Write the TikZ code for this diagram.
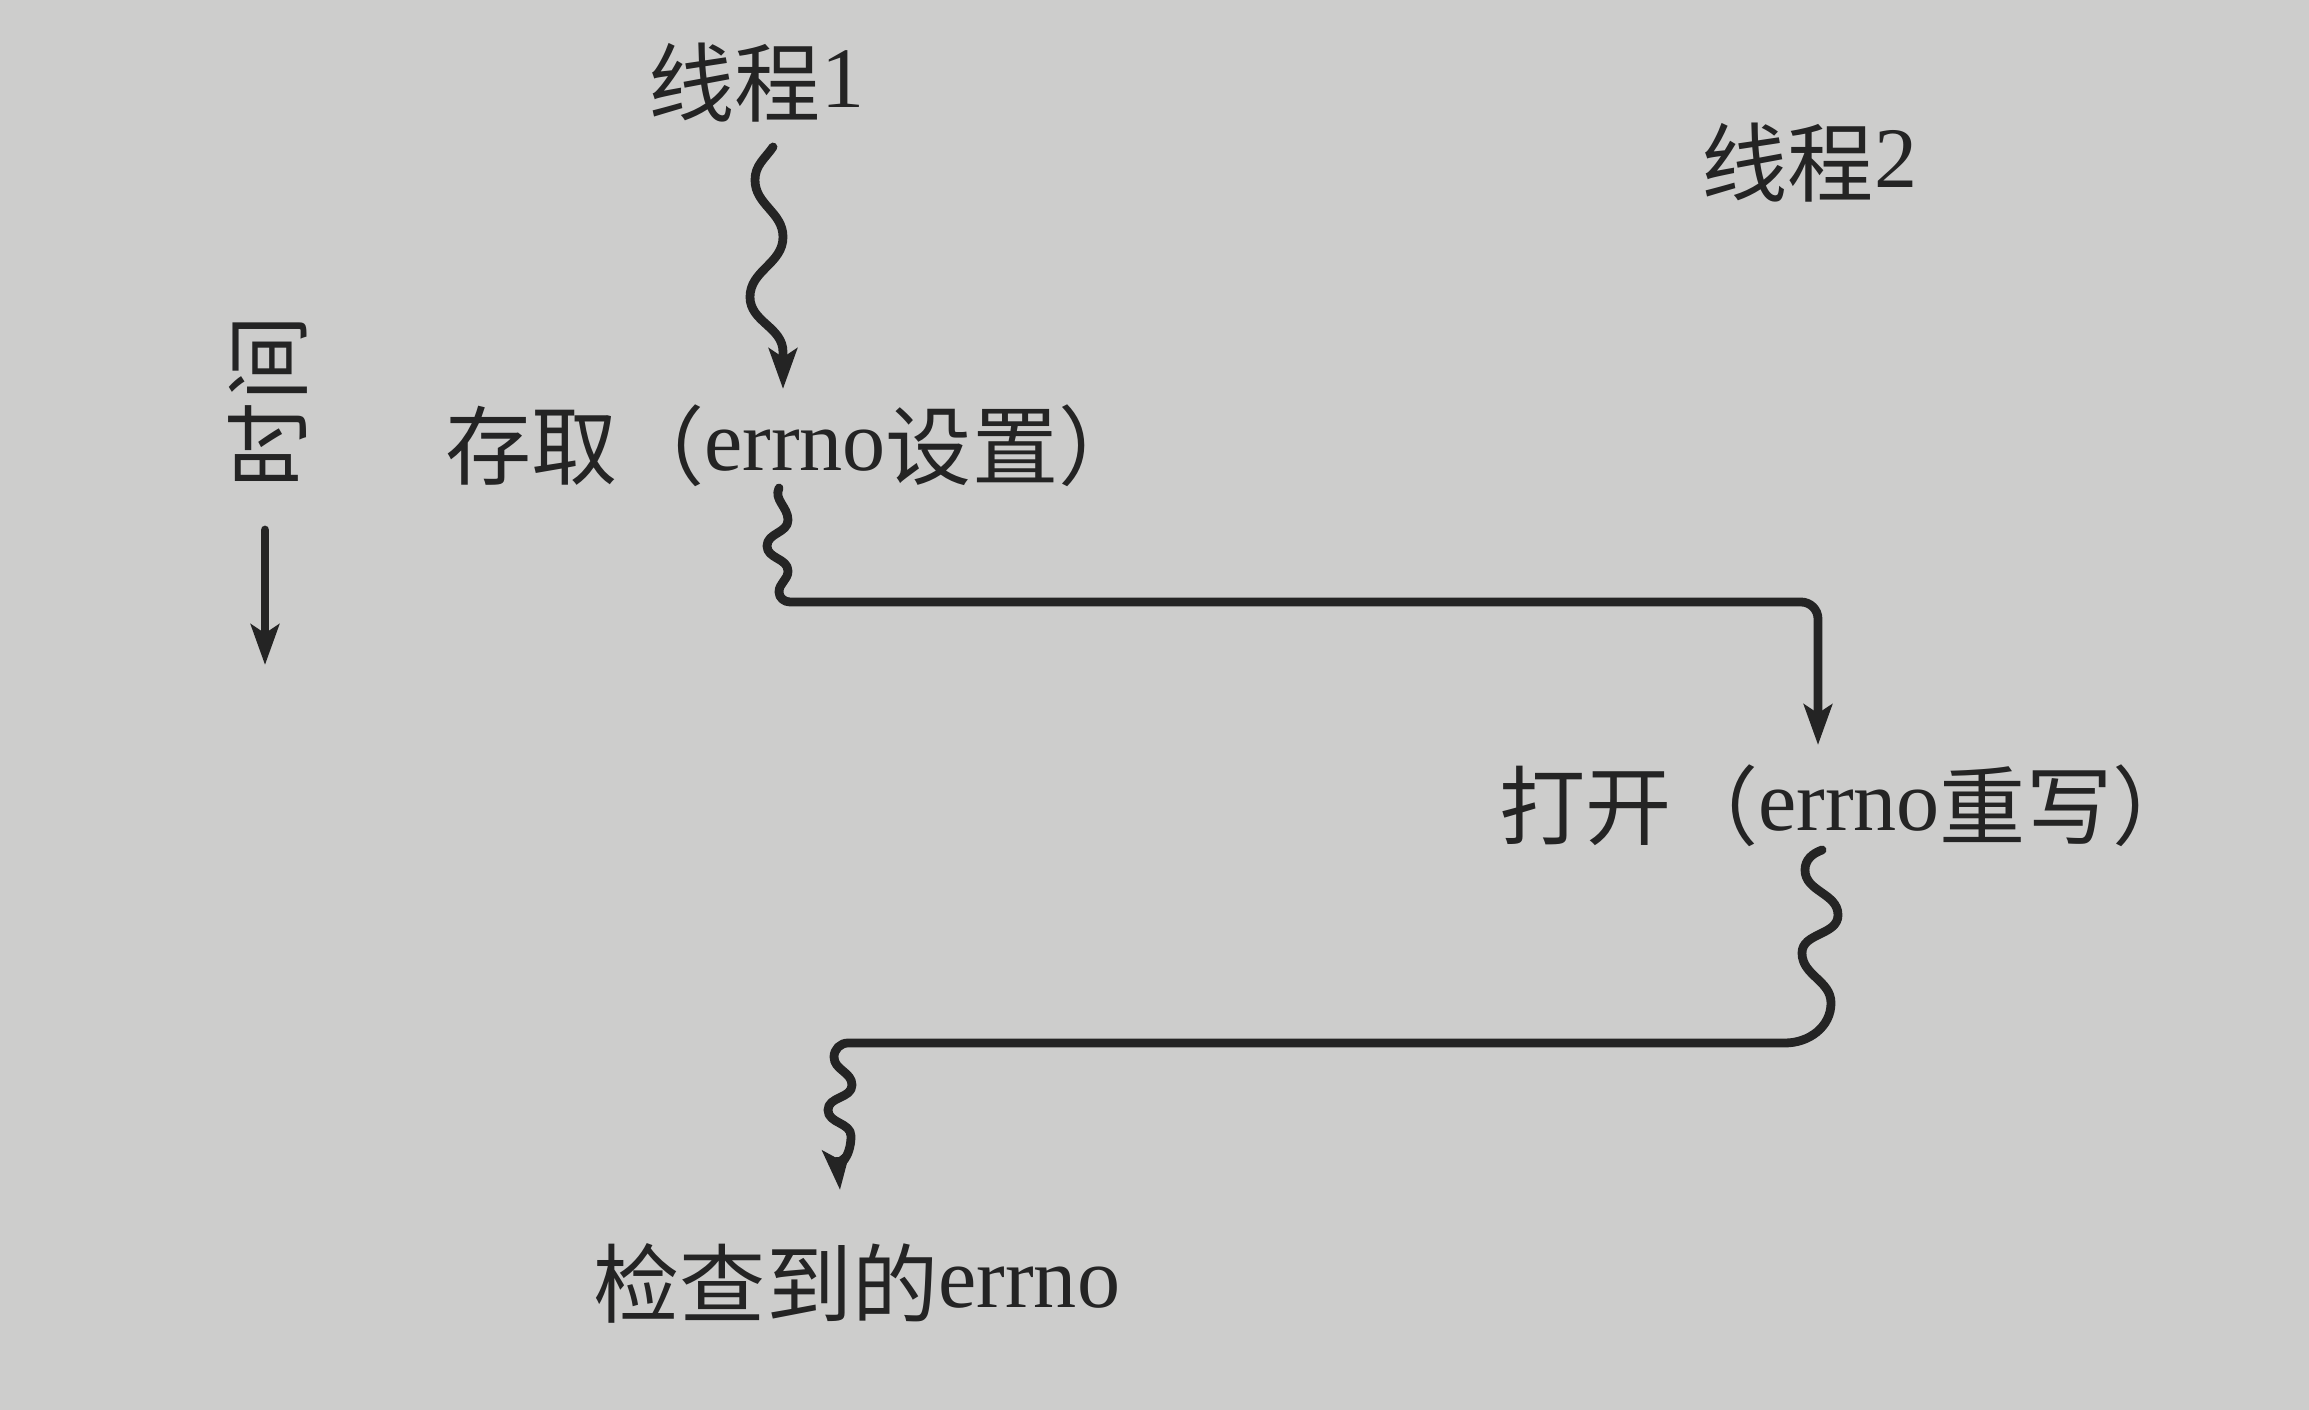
\documentclass[tikz,border=0pt]{standalone}
\usepackage{fontspec}
\setmainfont{Liberation Serif}
\newfontfamily\cjk{Noto Sans CJK SC}
\usetikzlibrary{arrows.meta}
\definecolor{paper}{RGB}{205,205,204}
\definecolor{ink}{RGB}{36,36,36}
\newcommand\lat[1]{\raisebox{2.5pt}{\rmfamily #1}}
\begin{document}
\begin{tikzpicture}[x=0.01cm,y=0.01cm,
  lbl/.style={inner sep=0pt, anchor=base west, text=ink, font=\fontsize{24.5}{30}\selectfont\cjk},
  flow/.style={draw=ink, line width=2.5pt, line cap=round, line join=round},
  tip/.style={-{Stealth[length=11.5pt,width=8pt,inset=2.5pt]}}]
\fill[paper] (0,0) rectangle (2309,-1410);
\useasboundingbox (0,0) rectangle (2309,-1410);

% labels
\node[lbl] (t1) at (648,-116) {线程\lat{1}};
\node[lbl] (t2) at (1701,-196) {线程\lat{2}};
\node[lbl] (s) at (445,-479) {存取（\lat{errno}设置）};
\node[lbl] (o) at (1499,-839) {打开（\lat{errno}重写）};
\node[lbl] (c) at (593,-1316) {检查到的\lat{errno}};
\node[inner sep=0pt, text=ink, rotate=90, font=\fontsize{24.5}{30}\selectfont\cjk] (time) at (268,-402) {时间};

% connector end points
\coordinate (ta) at (265,-530);
\coordinate (tb) at (265,-665);
\coordinate (w1a) at (773,-147);
\coordinate (w1b) at (783,-389);
\coordinate (w2a) at (779,-488);
\coordinate (w2b) at (1818,-745);
\coordinate (w3a) at (1822,-850);
\coordinate (w3b) at (840,-1190);

% time arrow
\draw[flow,tip] (ta) -- (tb);

% thread 1 -> access
\draw[flow,tip] (w1a) to[out=235,in=90] (755,-180)
  to[out=-90,in=90] (783,-237)
  to[out=-90,in=90] (750,-297)
  to[out=-90,in=90] (783,-352) -- (w1b);

% access -> open (thread 2)
\draw[flow,tip] (w2a) to[out=-115,in=90] (788,-520)
  to[out=-90,in=90] (767,-546)
  to[out=-90,in=90] (788,-571)
  to[out=-90,in=90] (779,-592)
  to[out=-90,in=180] (790,-602)
  -- (1801,-602) to[out=0,in=90] (1818,-619) -- (w2b);

% open -> checked errno
\draw[flow,tip] (w3a) to[out=200,in=90] (1805,-870)
  to[out=-90,in=90] (1838,-915)
  to[out=-90,in=90] (1802,-953)
  to[out=-90,in=90] (1831,-1003)
  to[out=-90,in=0] (1785,-1043)
  -- (848,-1043) to[out=180,in=90] (834,-1057)
  to[out=-90,in=90] (852,-1085)
  to[out=-90,in=90] (828,-1110)
  to[out=-90,in=90] (851,-1136)
  to[out=-90,in=95] (w3b);
\end{tikzpicture}
\end{document}
